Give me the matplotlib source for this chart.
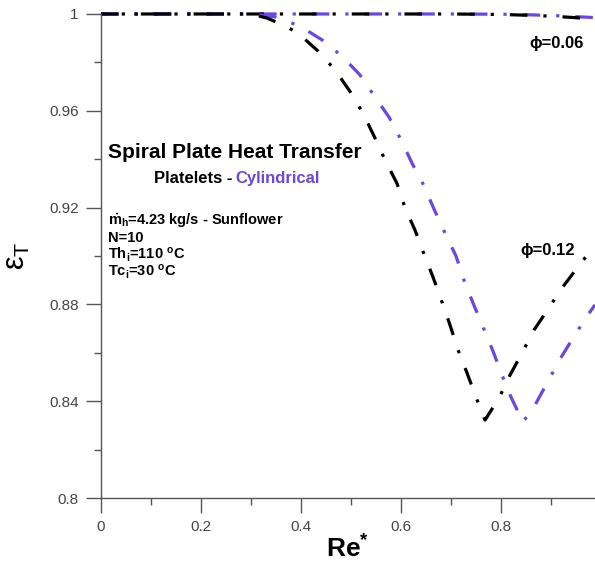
import matplotlib
matplotlib.use('Agg')
import matplotlib.pyplot as plt
from matplotlib.ticker import MultipleLocator

plt.rcParams['font.family'] = ['Liberation Sans', 'DejaVu Sans']
plt.rcParams['mathtext.fontset'] = 'custom'
plt.rcParams['mathtext.rm'] = 'Liberation Sans'
plt.rcParams['mathtext.bf'] = 'Liberation Sans:bold'
plt.rcParams['mathtext.default'] = 'bf'

BLACK = '#000000'
PURPLE = '#6a45e8'

# phi = 0.12, platelets (black) and cylindrical (purple)
re_plt_12 = [0.0, 0.30, 0.332, 0.364, 0.394, 0.434, 0.468, 0.498, 0.524, 0.546, 0.568, 0.592,
             0.608, 0.628, 0.646, 0.664, 0.682, 0.698, 0.714, 0.732, 0.75, 0.768,
             0.796, 0.818, 0.842, 0.866, 0.894, 0.922, 0.954, 0.988]
eps_plt_12 = [1.0, 1.0, 0.9983, 0.9955, 0.9921, 0.9847, 0.9769, 0.968, 0.959, 0.9496, 0.9397, 0.930,
              0.920, 0.9107, 0.9008, 0.8913, 0.881, 0.8715, 0.8612, 0.8517, 0.8417, 0.8322,
              0.8413, 0.8508, 0.8599, 0.8694, 0.878, 0.8868, 0.8955, 0.9045]

re_cyl_12 = [0.0, 0.30, 0.348, 0.398, 0.442, 0.484, 0.518, 0.548, 0.576, 0.60, 0.622, 0.646,
             0.666, 0.688, 0.71, 0.726, 0.744, 0.764, 0.784, 0.802, 0.82, 0.844,
             0.868, 0.892, 0.918, 0.944, 0.972, 0.988]
eps_cyl_12 = [1.0, 1.0, 0.9988, 0.995, 0.9893, 0.9822, 0.9748, 0.9657, 0.9574, 0.948, 0.9384, 0.929,
              0.9194, 0.9095, 0.900, 0.890, 0.8806, 0.8707, 0.8607, 0.8508, 0.8417, 0.8314,
              0.8384, 0.8475, 0.8574, 0.8661, 0.8752, 0.8798]

# phi = 0.06
re_06 = [0.0, 0.5, 0.7, 0.8, 0.85, 0.9, 0.94, 0.988]
eps_plt_06 = [1.0, 1.0, 1.0, 0.9998, 0.9995, 0.9991, 0.9986, 0.9979]
eps_cyl_06 = [1.0, 1.0, 1.0, 0.9999, 0.9997, 0.9994, 0.9990, 0.9985]

fig = plt.figure(figsize=(5.95, 5.66), dpi=100)
ax = fig.add_axes([0.1697, 0.1201, 0.8303, 0.8552])

dash = (5.5, 5, 1, 5)
lw = 2.3
ax.plot(re_06, eps_cyl_06, color=PURPLE, lw=lw, linestyle=(0, dash), clip_on=False)
ax.plot(re_06, eps_plt_06, color=BLACK, lw=lw, linestyle=(4, dash), clip_on=False)
ax.plot(re_cyl_12, eps_cyl_12, color=PURPLE, lw=lw, linestyle=(0, dash), clip_on=False)
ax.plot(re_plt_12, eps_plt_12, color=BLACK, lw=lw, linestyle=(0, dash), clip_on=False)

ax.set_xlim(0, 0.988)
ax.set_ylim(0.8, 1.0)
ax.xaxis.set_minor_locator(MultipleLocator(0.1))
ax.yaxis.set_minor_locator(MultipleLocator(0.02))
ax.set_xticks([0, 0.2, 0.4, 0.6, 0.8])
ax.set_xticklabels(['0', '0.2', '0.4', '0.6', '0.8'])
ax.set_yticks([0.8, 0.84, 0.88, 0.92, 0.96, 1.0])
ax.set_yticklabels(['0.8', '0.84', '0.88', '0.92', '0.96', '1'])

for s in ['top', 'right']:
    ax.spines[s].set_visible(False)
for s in ['left', 'bottom']:
    ax.spines[s].set_color('#555555')
    ax.spines[s].set_linewidth(1.0)
ax.tick_params(which='major', length=11, width=1, color='#555555', labelcolor='#444444',
               labelsize=11, pad=5)
ax.tick_params(which='minor', length=5, width=1, color='#555555')

ax.set_xlabel('Re$^{*}$', fontsize=19, fontweight='bold', labelpad=1)
ax.set_ylabel('$\\mathrm{\u03b5_{T}}$', fontsize=22, labelpad=12)

ax.text(0.271, 0.713, 'Spiral Plate Heat Transfer', transform=ax.transAxes,
        fontsize=15, fontweight='bold', ha='center', va='center')
ax.text(0.265, 0.661, 'Platelets -', transform=ax.transAxes,
        fontsize=12, fontweight='bold', ha='right', va='center')
ax.text(0.273, 0.661, 'Cylindrical', transform=ax.transAxes,
        fontsize=12, fontweight='bold', ha='left', va='center', color=PURPLE)

info = [r'$\dot{m}_h$=4.23 kg/s - Sunflower', 'N=10', r'Th$_i$=110 $^o$C', r'Tc$_i$=30 $^o$C']
for i, t in enumerate(info):
    ax.text(0.014, 0.572 - i * 0.035, t, transform=ax.transAxes,
            fontsize=10.5, fontweight='bold', ha='left', va='center')

ax.text(0.868, 0.94, '\u03d5=0.06', transform=ax.transAxes, fontsize=12, fontweight='bold',
        ha='left', va='center')
ax.text(0.848, 0.512, '\u03d5=0.12', transform=ax.transAxes, fontsize=12, fontweight='bold',
        ha='left', va='center')

plt.savefig('out.png', dpi=100)
